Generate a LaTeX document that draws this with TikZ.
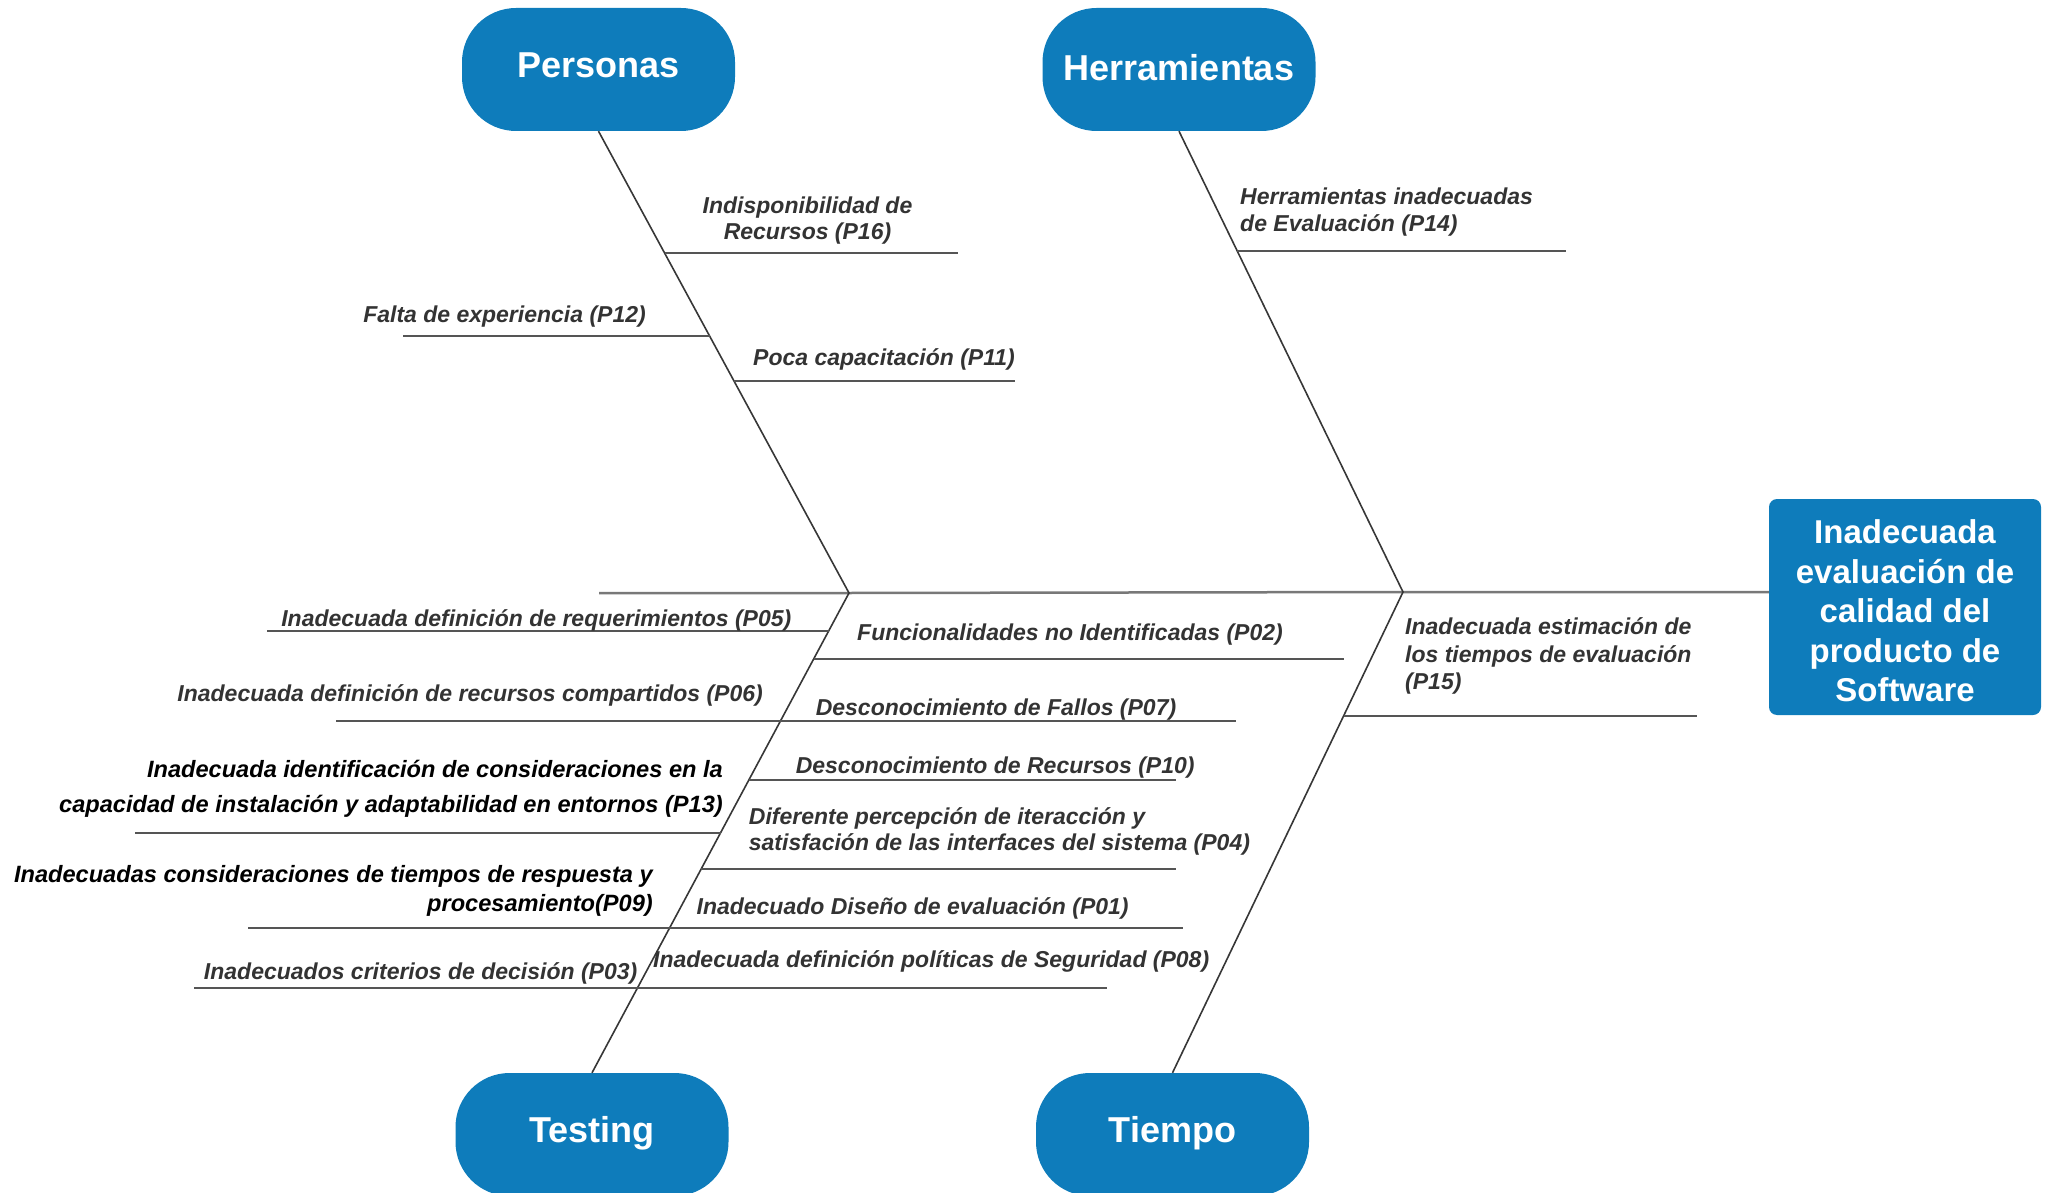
\documentclass[tikz,border=0pt]{standalone}
\usepackage{fontspec}
\setmainfont{Liberation Sans}
\usetikzlibrary{calc}

\definecolor{fishblue}{RGB}{14,124,187}
\definecolor{bonegray}{RGB}{55,55,55}
\definecolor{spinegray}{RGB}{120,120,120}
\definecolor{branchgray}{RGB}{85,85,85}
\definecolor{labelgray}{RGB}{51,51,51}

\begin{document}
\begin{tikzpicture}[x=1pt,y=-1pt,
  catbox/.style={fill=fishblue, rounded corners=54pt, minimum width=273pt,
    minimum height=123pt, inner sep=0pt, text=white,
    font=\fontsize{36}{43}\selectfont\bfseries, text height=26pt, text depth=0pt},
  effectbox/.style={fill=fishblue, rounded corners=8pt, minimum width=272pt,
    minimum height=216pt, inner sep=0pt, text=white, align=center,
    font=\fontsize{33}{39.5}\selectfont\bfseries},
  bone/.style={draw=bonegray, line width=1.6pt},
  spine/.style={draw=spinegray, line width=2.5pt},
  branch/.style={draw=branchgray, line width=2pt},
  cause/.style={text=labelgray, inner sep=0pt, yshift=-2.5pt,
    font=\fontsize{23}{#1}\selectfont\bfseries\itshape},
  cause/.default=27,
  causedark/.style={text=black, inner sep=0pt, yshift=-2.5pt,
    font=\fontsize{23.6}{#1}\selectfont\bfseries\itshape},
  causedark/.default=28,
]
\useasboundingbox (0,0) rectangle (2053,1193);

% category heads and effect
\node[catbox] (personas) at (598.5,69.5) {\raisebox{5pt}{Personas}};
\node[catbox] (herr)     at (1179,69.5)  {\raisebox{2pt}{Herramientas}};
\node[catbox] (testing)  at (592,1134.5) {\raisebox{5pt}{Testing}};
\node[catbox] (tiempo)   at (1172.5,1134.5) {\raisebox{5pt}{Tiempo}};
\node[effectbox] (effect) at (1905,607)
  {\raisebox{-4pt}[\height][\depth]{\parbox{272pt}{\centering Inadecuada\\evaluación de\\calidad del\\producto de\\Software}}};

% spine and main bones
\coordinate (S0) at (599,593);
\coordinate (J1) at (849,593);
\coordinate (J2) at (1403,592);
\draw[spine] (S0) -- (J1) -- (J2) -- (J2 -| effect.west);
\draw[bone] (personas.south) -- (J1) -- (testing.north);
\draw[bone] (herr.south) -- (J2) -- (tiempo.north);

% points on the Personas bone
\coordinate (b16) at ($(personas.south)!{(253-131)/(593-131)}!(J1)$);
\coordinate (b12) at ($(personas.south)!{(336-131)/(593-131)}!(J1)$);
\coordinate (b11) at ($(personas.south)!{(380.7-131)/(593-131)}!(J1)$);
% point on the Herramientas bone
\coordinate (b14) at ($(herr.south)!{(251-131)/(592-131)}!(J2)$);
% points on the Testing bone
\coordinate (b05) at ($(J1)!{(631-593)/(1073-593)}!(testing.north)$);
\coordinate (b02) at ($(J1)!{(659-593)/(1073-593)}!(testing.north)$);
\coordinate (b07) at ($(J1)!{(721-593)/(1073-593)}!(testing.north)$);
\coordinate (b10) at ($(J1)!{(780-593)/(1073-593)}!(testing.north)$);
\coordinate (b13) at ($(J1)!{(833-593)/(1073-593)}!(testing.north)$);
\coordinate (b04) at ($(J1)!{(869.5-593)/(1073-593)}!(testing.north)$);
\coordinate (b01) at ($(J1)!{(928-593)/(1073-593)}!(testing.north)$);
\coordinate (b08) at ($(J1)!{(988-593)/(1073-593)}!(testing.north)$);
% point on the Tiempo bone
\coordinate (b15) at ($(J2)!{(715.6-592)/(1073-592)}!(tiempo.north)$);

% free ends of the branches
\coordinate (e16) at (958,253);
\coordinate (e12) at (403,336);
\coordinate (e11) at (1014.5,380.7);
\coordinate (e14) at (1566,251);
\coordinate (e05) at (266.5,631);
\coordinate (e02) at (1344,659);
\coordinate (e06) at (336,721);
\coordinate (e07) at (1236,721);
\coordinate (e10) at (1176,780);
\coordinate (e13) at (135,833);
\coordinate (e04) at (1176,869.5);
\coordinate (e09) at (248,928);
\coordinate (e01) at (1183,928);
\coordinate (e03) at (194,988);
\coordinate (e08) at (1107,988);
\coordinate (e15) at (1697,715.6);

% branches
\draw[branch] (b16) -- (b16 -| e16);
\draw[branch] (b12) -- (b12 -| e12);
\draw[branch] (b11) -- (b11 -| e11);
\draw[branch] (b14) -- (b14 -| e14);
\draw[branch] (b05) -- (b05 -| e05);
\draw[branch] (b02) -- (b02 -| e02);
\draw[branch] (b07) -- (b07 -| e06);
\draw[branch] (b07) -- (b07 -| e07);
\draw[branch] (b10) -- (b10 -| e10);
\draw[branch] (b13) -- (b13 -| e13);
\draw[branch] (b04) -- (b04 -| e04);
\draw[branch] (b01) -- (b01 -| e09);
\draw[branch] (b01) -- (b01 -| e01);
\draw[branch] (b08) -- (b08 -| e03);
\draw[branch] (b08) -- (b08 -| e08);
\draw[branch] (b15) -- (b15 -| e15);

% causes
\node[cause=26, align=center] (l16) at (807.5,218.5) {Indisponibilidad de\\Recursos (P16)};
\node[cause, anchor=east] (l12) at (646,314.5) {Falta de experiencia (P12)};
\node[cause, anchor=west] (l11) at (753,357) {Poca capacitación (P11)};
\node[cause=27, anchor=west, align=left] (l14) at (1240,209.4) {Herramientas inadecuadas\\de Evaluación (P14)};

\node[cause, anchor=east] (l05) at (791.5,618.3) {Inadecuada definición de requerimientos (P05)};
\node[cause, anchor=east] (l06) at (763,693.4) {Inadecuada definición de recursos compartidos (P06)};
\node[causedark=35, anchor=east, align=right] (l13) at (723,786.2)
  {Inadecuada identificación de consideraciones en la\\capacidad de instalación y adaptabilidad en entornos (P13)};
\node[causedark=29, anchor=east, align=right] (l09) at (653,888.5)
  {Inadecuadas consideraciones de tiempos de respuesta y\\procesamiento(P09)};
\node[cause, anchor=east] (l03) at (637.5,971) {Inadecuados criterios de decisión (P03)};

\node[cause, anchor=west] (l02) at (857,631.6) {Funcionalidades no Identificadas (P02)};
\node[cause, anchor=west] (l07) at (815.6,707) {Desconocimiento de Fallos (P07)};
\node[cause, anchor=west] (l10) at (795.6,764.9) {Desconocimiento de Recursos (P10)};
\node[cause=26.5, anchor=west, align=left] (l04) at (748.7,828.9)
  {Diferente percepción de iteracción y\\satisfación de las interfaces del sistema (P04)};
\node[cause, anchor=west] (l01) at (696.4,905.6) {Inadecuado Diseño de evaluación (P01)};
\node[cause, anchor=west] (l08) at (653,959) {Inadecuada definición políticas de Seguridad (P08)};

\node[cause=27.5, anchor=west, align=left] (l15) at (1405,653.5)
  {Inadecuada estimación de\\los tiempos de evaluación\\(P15)};
\end{tikzpicture}
\end{document}
